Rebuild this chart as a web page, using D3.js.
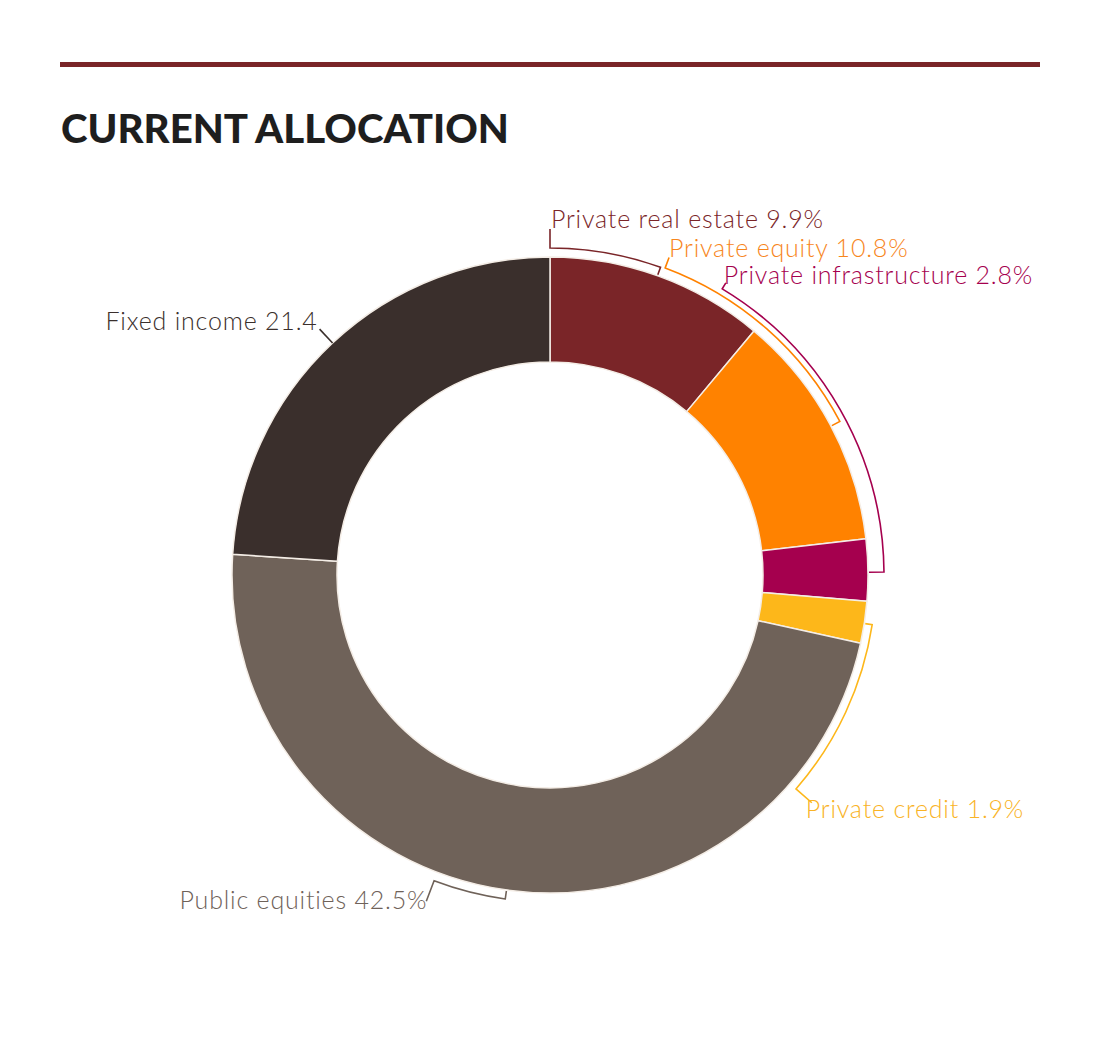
<!DOCTYPE html>
<html>
<head>
<meta charset="utf-8">
<script src="https://cdn.jsdelivr.net/npm/d3@7"></script>
<style>
  body { margin: 0; background: #fff; }
  svg { display: block; }
</style>
</head>
<body>
<script>
// DATA

var categories = ["Private real estate", "Private equity", "Private infrastructure", "Private credit", "Public equities", "Fixed income"];
var values = [9.9, 10.8, 2.8, 1.9, 42.5, 21.4];
var labelSuffix = ["%", "%", "%", "%", "%", ""];
// bracket extents, in the same share units as values (from = label end)
var bracketFrom = [0, 5.1, 7.7, 32.5, 49.8, null];
var bracketTo = [4.9, 15.4, 22.2, 24.5, 46.6, null];

var colors = ["#7a2528", "#ff8200", "#a5004e", "#fdb71a", "#6f6259", "#3a2f2c"];
var textColors = ["#7a2528", "#f7861c", "#a5004e", "#f9b326", "#6f6259", "#3a2f2c"];

// CHART STRUCTURE

var svgWidth = 1100;
var svgHeight = 1038;
var cx = 550, cy = 575;
var outerR = 318, innerR = 213;

var svg = d3.select("body")
  .append("svg")
  .attr("width", svgWidth)
  .attr("height", svgHeight);

// TOP RULE + TITLE

svg.append("rect")
  .attr("x", 60).attr("y", 62)
  .attr("width", 980).attr("height", 5)
  .attr("fill", "#7a2528");

svg.append("text")
  .attr("x", 61).attr("y", 143)
  .attr("font-family", "Lato, sans-serif")
  .attr("font-weight", 900)
  .attr("font-size", 40.2)
  .attr("fill", "#1e1e1e")
  .text("CURRENT ALLOCATION");

// DONUT

var chartGroup = svg.append("g")
  .attr("transform", `translate(${cx}, ${cy})`);

var total = d3.sum(values);
var angle = d3.scaleLinear().domain([0, total]).range([0, 2 * Math.PI]);

var pie = d3.pie().sort(null).value(d => d);
var arc = d3.arc().innerRadius(innerR).outerRadius(outerR);

var arcs = pie(values);

chartGroup.selectAll("path.slice")
  .data(arcs)
  .enter()
  .append("path")
  .attr("class", "slice")
  .attr("d", arc)
  .attr("fill", (d, i) => colors[i])
  .attr("stroke", "#f4ede6")
  .attr("stroke-width", 1.5)
  .attr("stroke-linejoin", "round");

// BRACKETS + LABELS

function pt(a, r) { return [Math.sin(a) * r, -Math.cos(a) * r]; }

// layout per slice: bracket radius, leader radius, label offset, anchor
var layout = [
  {br: 327, lr: 346, dx: 1, dy: -1, anchor: "start"},
  {br: 328, lr: 339, dx: 0, dy: -1, anchor: "start"},
  {br: 334, lr: 341, dx: -2, dy: 1, anchor: "start"},
  {br: 326, lr: 347, dx: -6, dy: 15, anchor: "start"},
  {br: 327, lr: 349, dx: 1, dy: 8, anchor: "end"},
  {br: 318, lr: 337, dx: -2, dy: 1, anchor: "end"}
];
var tickR = 319;

arcs.forEach(function(d, i) {
  var L = layout[i];
  var g = chartGroup.append("g");
  var leaderAngle, p;
  if (bracketFrom[i] != null) {
    var a0 = angle(bracketFrom[i]);
    var a1 = angle(bracketTo[i]);
    leaderAngle = a0;
    p = d3.path();
    var lo = pt(a0, L.lr);
    var s = pt(a0, L.br);
    var t = pt(a1, tickR);
    p.moveTo(lo[0], lo[1]);
    p.lineTo(s[0], s[1]);
    p.arc(0, 0, L.br, a0 - Math.PI / 2, a1 - Math.PI / 2, a1 < a0);
    p.lineTo(t[0], t[1]);
  } else {
    leaderAngle = (d.startAngle + d.endAngle) / 2;
    p = d3.path();
    var a = pt(leaderAngle, outerR);
    var b = pt(leaderAngle, L.lr);
    p.moveTo(b[0], b[1]);
    p.lineTo(a[0], a[1]);
  }
  g.append("path")
    .attr("d", p.toString())
    .attr("fill", "none")
    .attr("stroke", colors[i])
    .attr("stroke-width", 1.6);

  var end = pt(leaderAngle, L.lr);
  g.append("text")
    .attr("x", end[0] + L.dx)
    .attr("y", end[1] + L.dy)
    .attr("text-anchor", L.anchor)
    .attr("font-family", "Lato, sans-serif")
    .attr("font-weight", 300)
    .attr("font-size", 25)
    .attr("letter-spacing", 0.8)
    .attr("fill", textColors[i])
    .text(categories[i] + " " + d3.format(".1f")(values[i]) + labelSuffix[i]);
});
</script>
</body>
</html>
